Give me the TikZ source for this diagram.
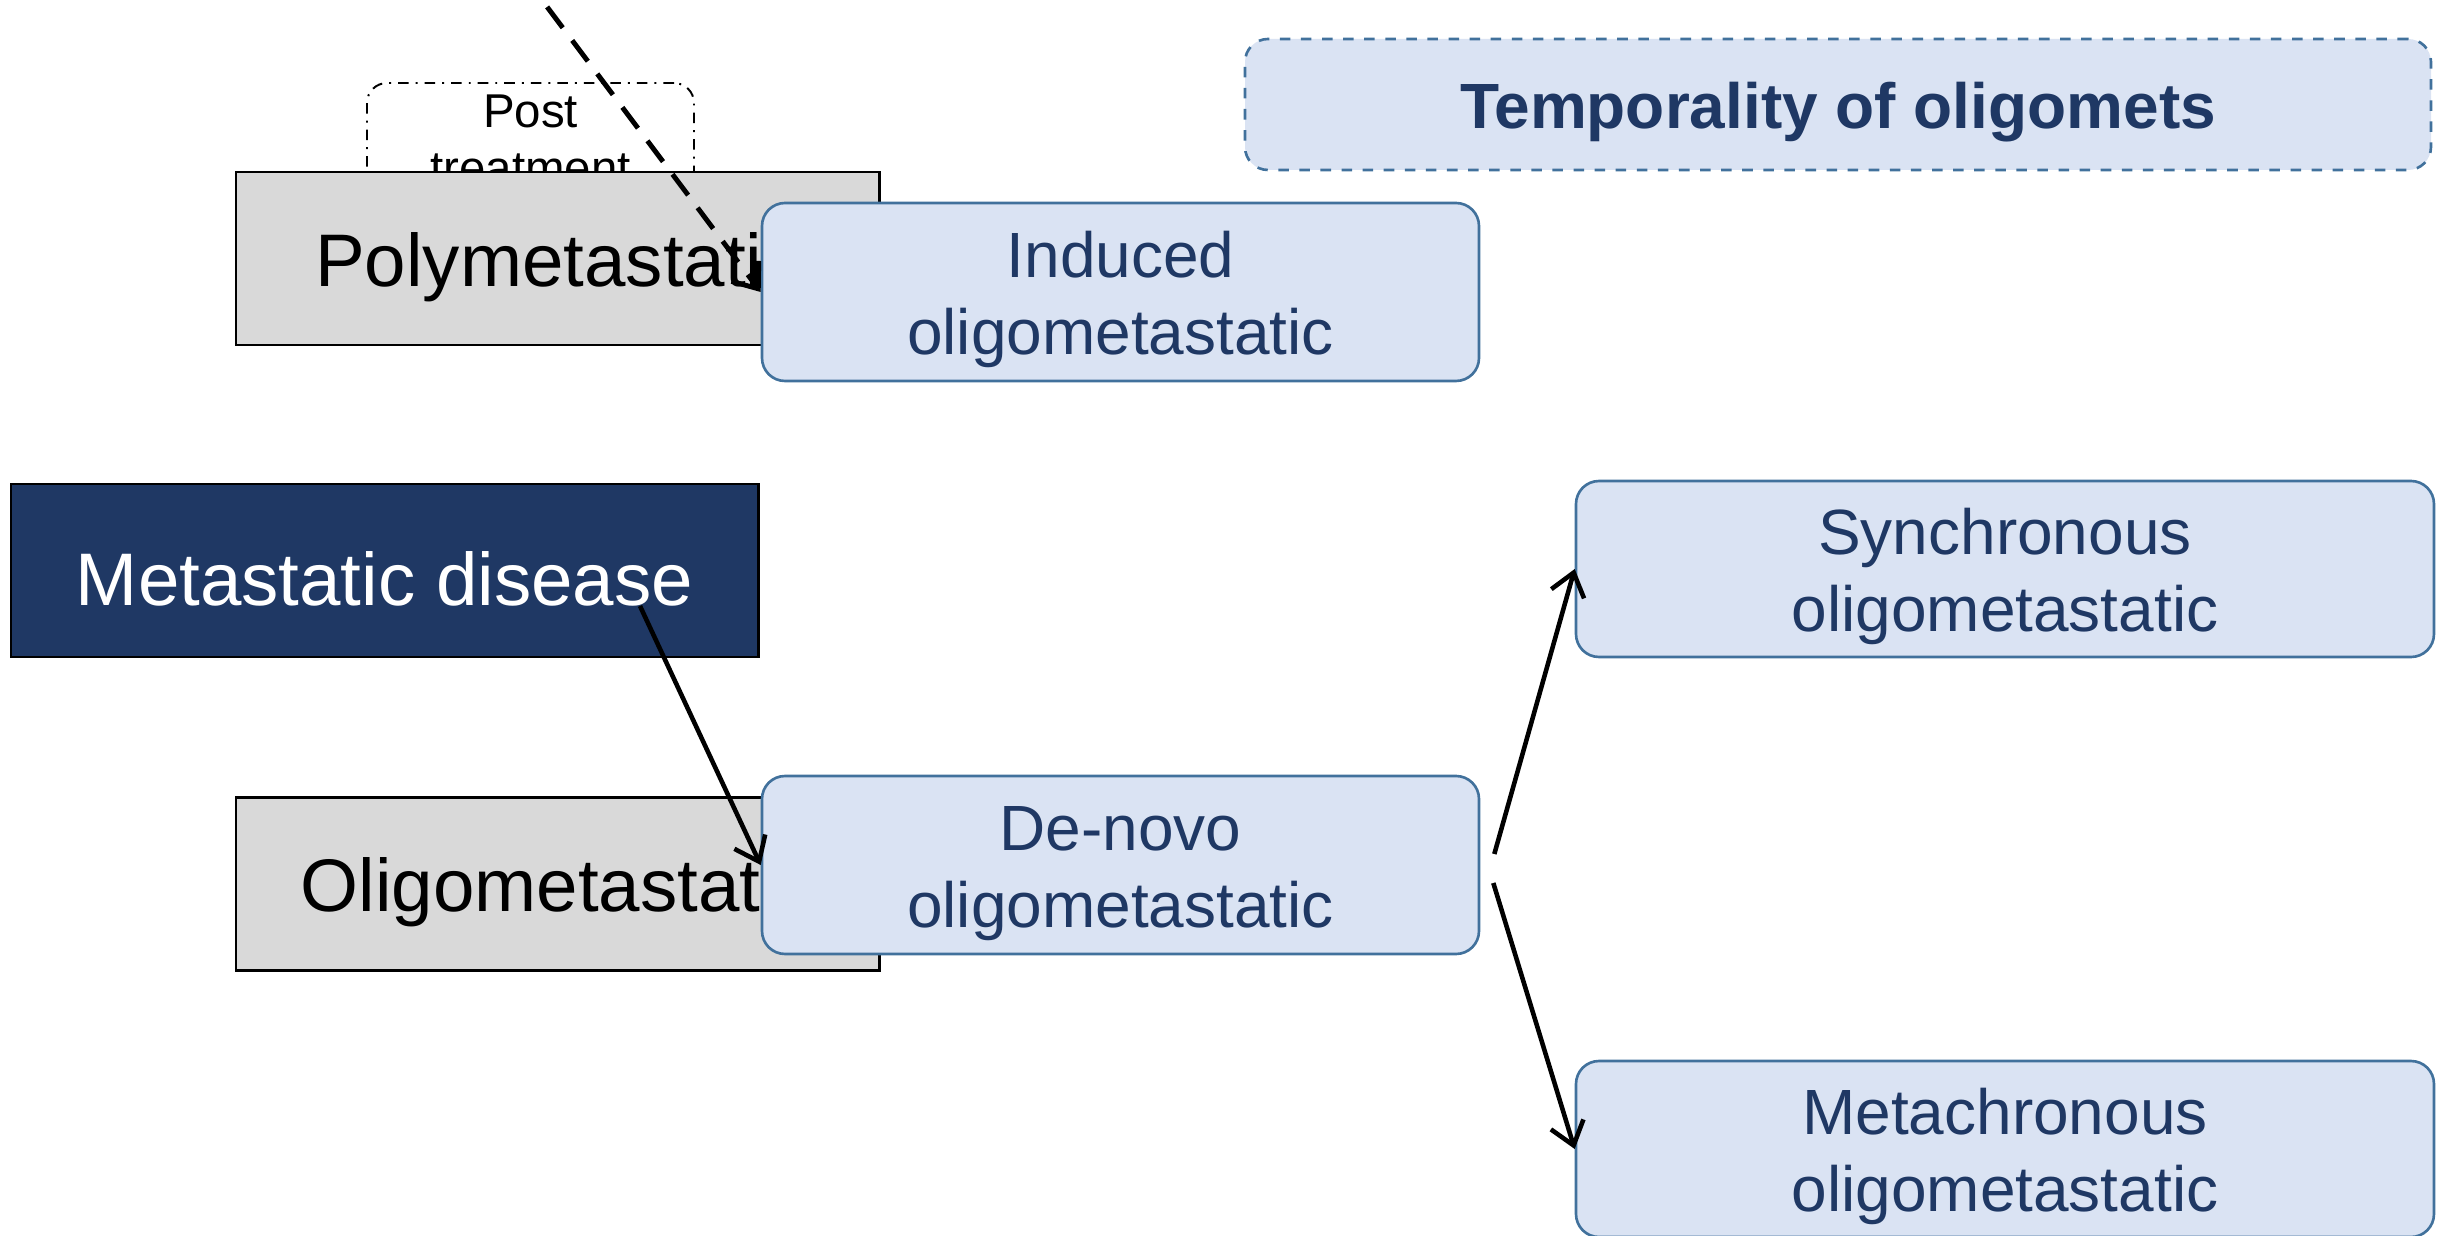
\documentclass[tikz,border=0pt]{standalone}
\usepackage{fontspec}
\setmainfont{Liberation Sans}
\usetikzlibrary{calc,arrows.meta}
\definecolor{navy}{HTML}{1F3864}
\definecolor{paleblue}{HTML}{DAE3F3}
\definecolor{edgeblue}{HTML}{41719C}
\definecolor{boxgrey}{HTML}{D9D9D9}
\newcommand{\topstrut}{\rule{0pt}{0.95em}}

\begin{document}
\begin{tikzpicture}[>={Straight Barb[length=0.22cm,width=0.34cm]},
  greybox/.style={draw=black, line width=0.85pt, fill=boxgrey, minimum width=6.43cm, minimum height=1.73cm, font=\fontsize{21.2}{25}\selectfont},
  navybox/.style={draw=black, line width=0.85pt, fill=navy, text=white, minimum width=7.47cm, minimum height=1.73cm, font=\fontsize{21.2}{25}\selectfont},
  bluebox/.style={draw=edgeblue, line width=0.75pt, fill=paleblue, rounded corners=0.23cm, text=navy, align=center, minimum width=7.17cm, minimum height=1.78cm, font=\fontsize{18.2}{21.8}\selectfont},
  postbox/.style={draw=black, line width=0.55pt, dash dot, rounded corners=0.2cm, align=center, inner sep=2pt, minimum width=3.27cm, minimum height=1.14cm, font=\fontsize{13.5}{16.2}\selectfont},
  link/.style={->, line width=1.3pt}]
\useasboundingbox (0,0) rectangle (24.47,-12.36);
\clip (0,0) rectangle (24.47,-12.36);
\node[postbox] (post) at (5.305,-1.40) {Post\\treatment};
\node[greybox] (poly) at (5.575,-2.585) {\topstrut Polymetastatic};
\node[greybox] (oligo) at (5.575,-8.84) {\topstrut Oligometastatic};
\node[navybox] (meta) at (3.845,-5.705) {\topstrut Metastatic disease};
\node[bluebox] (induced) at (11.205,-2.92) {\topstrut Induced\\oligometastatic};
\node[bluebox] (denovo) at (11.205,-8.65) {\topstrut De-novo\\oligometastatic};
\node[bluebox, minimum width=8.58cm, minimum height=1.76cm] (sync) at (20.05,-5.69) {\topstrut Synchronous\\oligometastatic};
\node[bluebox, minimum width=8.58cm, minimum height=1.76cm] (metachron) at (20.05,-11.49) {\topstrut Metachronous\\oligometastatic};
\node[bluebox, dashed, minimum width=11.86cm, minimum height=1.31cm, font=\bfseries\fontsize{18.2}{21.8}\selectfont] (title) at (18.38,-1.045) {\topstrut Temporality of oligomets};
\coordinate (dashstart) at (4.97,0.6);
\coordinate (metaout) at (6.40,-6.06);
\draw[link, line width=1.4pt, dash pattern=on 7.4pt off 4.5pt] (dashstart) -- (induced.west);
\draw[link] (metaout) -- (denovo.west);
\draw[link] ([shift={(0.14,0.11)}]denovo.east) -- (sync.west);
\draw[link] ([shift={(0.13,-0.18)}]denovo.east) -- (metachron.west);
\end{tikzpicture}
\end{document}
